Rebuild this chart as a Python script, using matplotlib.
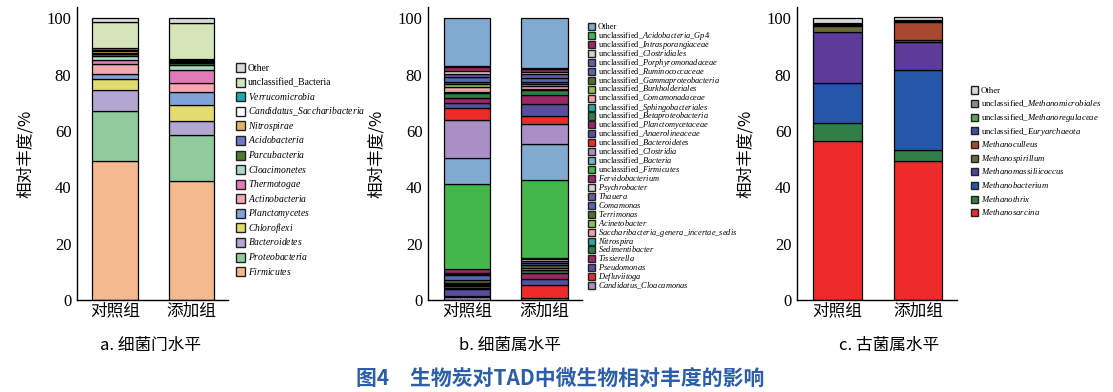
import numpy as np
import matplotlib
matplotlib.use("Agg")
import matplotlib.pyplot as plt
from matplotlib.patches import Rectangle

plt.rcParams['font.family'] = ['Liberation Serif', 'Noto Sans CJK SC']
plt.rcParams['mathtext.fontset'] = 'custom'
plt.rcParams['mathtext.rm'] = 'Liberation Serif'
plt.rcParams['mathtext.it'] = 'Liberation Serif:italic'

groups = ["对照组", "添加组"]

# a. phylum level (bottom -> top)
phylumNames = ["Firmicutes", "Proteobacteria", "Bacteroidetes", "Chloroflexi", "Planctomycetes",
               "Actinobacteria", "Thermotogae", "Cloacimonetes", "Parcubacteria", "Acidobacteria",
               "Nitrospirae", "Candidatus_Saccharibacteria", "Verrucomicrobia",
               "unclassified_Bacteria", "Other"]
phylumControl = [49.5, 17.7, 7.4, 3.8, 1.8, 3.5, 1.4, 1.5, 0.6, 0.6, 0.5, 0.5, 0.5, 9.5, 1.2]
phylumBiochar = [42.1, 16.3, 5.0, 5.8, 4.7, 3.1, 4.7, 1.8, 0.5, 0.5, 0.4, 0.4, 0.4, 12.5, 1.8]
phylumColors = ["#F5B98F", "#8FCB9B", "#B3A6D0", "#E4DB70", "#7FA3D8", "#F2A9B2", "#E37CB6",
                "#A6D9C9", "#4F7B2C", "#7079C3", "#E1B25F", "#FFFFFF", "#20A9A6", "#D4E6B9", "#DADADA"]

# b. genus level (bottom -> top)
genusNames = ["Candidatus_Cloacamonas", "Defluviitoga", "Pseudomonas", "Tissierella",
              "Sedimentibacter", "Nitrospira", "Saccharibacteria_genera_incertae_sedis",
              "Acinetobacter", "Terrimonas", "Comamonas", "Thauera", "Psychrobacter",
              "Fervidobacterium", "unclassified_Firmicutes", "unclassified_Bacteria",
              "unclassified_Clostridia", "unclassified_Bacteroidetes", "unclassified_Anaerolineaceae",
              "unclassified_Planctomycetaceae", "unclassified_Betaproteobacteria",
              "unclassified_Sphingobacteriales", "unclassified_Comamonadaceae",
              "unclassified_Burkholderiales", "unclassified_Gammaproteobacteria",
              "unclassified_Ruminococcaceae", "unclassified_Porphyromonadaceae",
              "unclassified_Clostridiales", "unclassified_Intrasporangiaceae",
              "unclassified_Acidobacteria_Gp4", "Other"]
genusControl = [1.0, 0.3, 2.6, 0.5, 0.6, 0.3, 0.5, 0.3, 1.0, 1.6, 0.7, 0.3, 1.2,
                30.4, 9.1, 13.6, 4.0, 1.9, 1.7, 1.7, 0.7, 1.5,
                1.0, 1.0, 1.5, 1.3, 1.1, 1.4, 0.3, 16.9]
genusBiochar = [0.6, 4.6, 2.3, 2.0, 1.0, 0.3, 0.4, 0.3, 1.0, 0.6, 0.8, 0.5, 0.4,
                27.7, 12.9, 7.1, 2.7, 4.4, 3.2, 1.8, 0.4, 0.8,
                0.8, 0.9, 1.4, 1.2, 0.8, 1.0, 0.6, 17.5]
genusPalette = ["#A98FC5", "#EE2B2B", "#574E9F", "#9B2864", "#2F7E46", "#2BA8A0", "#F0A1A9",
                "#8CC253", "#5B6732", "#5568B1", "#6B5B9F", "#D1D1D1", "#9B2864", "#44B64A", "#80AACF"]
genusColors = genusPalette + genusPalette

# c. archaea genus level (bottom -> top)
archaeaNames = ["Methanosarcina", "Methanothrix", "Methanobacterium", "Methanomassiliicoccus",
                "Methanospirillum", "Methanoculleus", "unclassified_Euryarchaeota",
                "unclassified_Methanoregulaceae", "unclassified_Methanomicrobiales", "Other"]
archaeaControl = [56.6, 6.1, 14.5, 18.1, 2.0, 0.3, 0.2, 0.3, 0.3, 1.8]
archaeaBiochar = [49.2, 4.2, 28.3, 9.7, 0.9, 6.4, 0.2, 0.2, 0.3, 0.9]
archaeaColors = ["#EE2B2B", "#2F7E46", "#2457A8", "#5C3B9B", "#6C6B3B", "#A9482F",
                 "#4B4B9B", "#56A94B", "#8B8B8B", "#DADADA"]


def italic(s):
    return r"$\mathit{" + s.replace("_", r"\_") + "}$"


def fmt(name, plain=()):
    if name == "Other" or name in plain:
        return name
    if name.startswith("unclassified_"):
        return "unclassified_" + italic(name[len("unclassified_"):])
    return italic(name)


W, H = 1113, 392
fig = plt.figure(figsize=(W / 100, H / 100), dpi=100)
cjk = ["Noto Sans CJK SC", "DejaVu Sans"]


def legend(names, colors, x0, y0, pitch, box, size, plain=()):
    # legend rows drawn at a fixed pitch (pixels from the top-left corner)
    for i, (name, col) in enumerate(zip(names[::-1], colors[::-1])):
        yc = y0 + i * pitch
        fig.patches.append(Rectangle((x0 / W, 1 - (yc + box / 2) / H), box / W, box / H,
                                     transform=fig.transFigure, facecolor=col,
                                     edgecolor="#222222", linewidth=1.0))
        fig.text((x0 + box + 3) / W, 1 - (yc + 0.3 * size * 100 / 72) / H, fmt(name, plain),
                 fontsize=size, ha="left", va="baseline")


def panel(left, right, names, control, biochar, colors, caption, capX):
    ax = fig.add_axes([left / W, (H - 300) / H, (right - left) / W, 293 / H])
    x = np.arange(len(groups))
    bottom = np.zeros(len(groups))
    for c0, c1, col in zip(control, biochar, colors):
        vals = np.array([c0, c1])
        ax.bar(x, vals, 0.6, bottom=bottom, color=col, edgecolor="black", linewidth=0.9)
        bottom += vals
    ax.set_xlim(-0.5, 1.48)
    ax.set_ylim(0, 104)
    ax.set_yticks([0, 20, 40, 60, 80, 100])
    ax.set_xticks(x)
    ax.set_xticklabels(groups, fontsize=12, family=cjk)
    ax.tick_params(axis="y", labelsize=12, length=0, pad=4)
    ax.tick_params(axis="x", length=0, pad=2)
    for s in ["top", "right"]:
        ax.spines[s].set_visible(False)
    for s in ["left", "bottom"]:
        ax.spines[s].set_linewidth(1.0)
    ax.set_ylabel("相对丰度/%", fontsize=12, family=cjk, labelpad=9)
    fig.text(capX / W, 1 - 345 / H, caption, fontsize=12, family=cjk, ha="center", va="center")
    return ax


panel(77, 228, phylumNames, phylumControl, phylumBiochar, phylumColors, "a. 细菌门水平", 151)
legend(phylumNames, phylumColors, 236, 67.7, 14.57, 9, 6.9, plain=("unclassified_Bacteria",))

panel(428, 582, genusNames, genusControl, genusBiochar, genusColors, "b. 细菌属水平", 510)
legend(genusNames, genusColors, 588, 26.7, 8.93, 7, 6.0)

panel(797, 957, archaeaNames, archaeaControl, archaeaBiochar, archaeaColors, "c. 古菌属水平", 889)
legend(archaeaNames, archaeaColors, 971, 90, 13.63, 7, 6.3)

fig.text(560 / W, 1 - 378 / H, "图4　生物炭对TAD中微生物相对丰度的影响", fontsize=15,
         color="#2C5EA9", fontweight="bold", family=cjk, ha="center", va="center")

fig.savefig("out.png", dpi=100)
